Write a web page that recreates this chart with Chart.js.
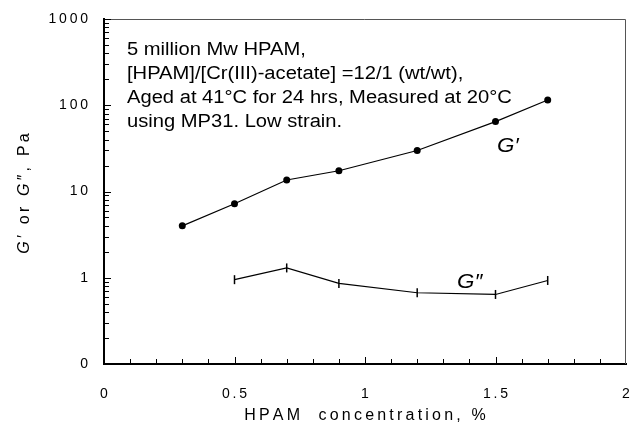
<!DOCTYPE html>
<html>
<head>
<meta charset="utf-8">
<script src="https://cdn.jsdelivr.net/npm/chart.js@4"></script>
<style>
  html, body { margin: 0; padding: 0; background: #fff; }
  #wrap { width: 632px; height: 429px; }
</style>
</head>
<body>
<div id="wrap"><canvas id="modChart" width="632" height="429"></canvas></div>
<script>
// data
const concElastic = [0.3, 0.5, 0.7, 0.9, 1.2, 1.5, 1.7];
const gPrime = [4.0, 7.2, 13.6, 17.4, 29.9, 64.6, 115];
const concViscous = [0.5, 0.7, 0.9, 1.2, 1.5, 1.7];
const gDouble = [0.95, 1.30, 0.86, 0.67, 0.64, 0.93];

const yTickValues = [0.1, 1, 10, 100, 1000];
const yTickLabels = ['0', '1', '10', '100', '1000'];
const xTickValues = [0, 0.5, 1, 1.5, 2];
const minorMultipliers = [2, 3, 4, 5, 6, 7, 8, 9];

const noteLines = [
    '5 million Mw HPAM,',
    '[HPAM]/[Cr(III)-acetate] =12/1 (wt/wt),',
    'Aged at 41\u00B0C for 24 hrs, Measured at 20\u00B0C',
    'using MP31. Low strain.'
];

const FONT = "'Liberation Sans', Arial, sans-serif";

// the axis texts of the original are letter-spaced; thin spaces keep canvas alignment right
const spaced = s => String(s).split('').join('\u2009');

// ---------------------------------------------------------
// frame, inward ticks and text
// ---------------------------------------------------------
const decorPlugin = {
    id: 'decor',
    afterDraw(chart) {
        const ctx = chart.ctx;
        const area = chart.chartArea;
        const xs = chart.scales.x, ys = chart.scales.y;
        ctx.save();

        // top / right frame
        ctx.strokeStyle = '#555';
        ctx.lineWidth = 1;
        ctx.beginPath();
        ctx.moveTo(area.left, area.top + 0.5);
        ctx.lineTo(area.right - 0.5, area.top + 0.5);
        ctx.lineTo(area.right - 0.5, area.bottom);
        ctx.stroke();

        // inward ticks
        ctx.strokeStyle = '#000';
        ctx.lineWidth = 1;
        ctx.beginPath();
        for (let d = 0; d < yTickValues.length; d++) {
            const base = yTickValues[d];
            const py = Math.round(ys.getPixelForValue(base)) + 0.5;
            ctx.moveTo(area.left, py); ctx.lineTo(area.left + 7, py);
            if (d < yTickValues.length - 1) {
                minorMultipliers.forEach(m => {
                    const p = Math.round(ys.getPixelForValue(base * m)) + 0.5;
                    ctx.moveTo(area.left, p); ctx.lineTo(area.left + 5, p);
                });
            }
        }
        for (let i = 1; i < 20; i++) {
            const v = i / 10;
            const px = Math.round(xs.getPixelForValue(v)) + 0.5;
            const len = (i % 5 === 0) ? 7 : 5;
            ctx.moveTo(px, area.bottom); ctx.lineTo(px, area.bottom - len);
        }
        ctx.stroke();

        // annotation
        ctx.fillStyle = '#000';
        ctx.textBaseline = 'alphabetic';
        ctx.textAlign = 'left';
        ctx.font = '18px ' + FONT;
        noteLines.forEach((line, i) => {
            ctx.save();
            ctx.translate(127, 55 + i * 24);
            ctx.scale(1.12, 1);
            ctx.fillText(line, 0, 0);
            ctx.restore();
        });

        // series labels
        ctx.font = 'italic 20px ' + FONT;
        [['G\u2032', 497, 152], ['G\u2033', 457, 288]].forEach(([t, x, y]) => {
            ctx.save();
            ctx.translate(x, y);
            ctx.scale(1.12, 1);
            ctx.fillText(t, 0, 0);
            ctx.restore();
        });

        // y axis title with italic G
        const parts = [
            ['italic', 'G\u2009'], ['normal', spaced('\u2032 or ') + '\u2009'],
            ['italic', 'G\u2009'], ['normal', spaced('\u2033, Pa')]
        ];
        let total = 0;
        parts.forEach(p => {
            ctx.font = (p[0] === 'italic' ? 'italic ' : '') + '16px ' + FONT;
            p.w = ctx.measureText(p[1]).width;
            total += p.w;
        });
        ctx.translate(29, (area.top + area.bottom) / 2 + 2);
        ctx.rotate(-Math.PI / 2);
        let cx = -total / 2;
        parts.forEach(p => {
            ctx.font = (p[0] === 'italic' ? 'italic ' : '') + '16px ' + FONT;
            ctx.fillText(p[1], cx, 0);
            cx += p.w;
        });
        ctx.restore();
    }
};

const ctx = document.getElementById('modChart').getContext('2d');
new Chart(ctx, {
    type: 'scatter',
    data: {
        datasets: [
            {
                label: "G'",
                data: concElastic.map((c, i) => ({ x: c, y: gPrime[i] })),
                showLine: true,
                borderColor: '#000',
                borderWidth: 1.2,
                pointStyle: 'circle',
                pointRadius: 3.5,
                pointBackgroundColor: '#000',
                pointBorderWidth: 0
            },
            {
                label: 'G"',
                data: concViscous.map((c, i) => ({ x: c, y: gDouble[i] })),
                showLine: true,
                borderColor: '#000',
                borderWidth: 1.2,
                pointStyle: 'line',
                rotation: 90,
                pointRadius: 4.5,
                pointBorderColor: '#000',
                pointBorderWidth: 1.5
            }
        ]
    },
    options: {
        responsive: false,
        animation: false,
        events: [],
        layout: { padding: { top: 19, right: 6, left: 0, bottom: 0 } },
        plugins: { legend: { display: false }, tooltip: { enabled: false } },
        scales: {
            x: {
                type: 'linear',
                min: 0, max: 2,
                afterBuildTicks: s => { s.ticks = xTickValues.map(v => ({ value: v })); },
                afterFit: s => { s.height = 65; s.paddingLeft = 0; s.paddingRight = 0; },
                grid: { display: false, drawTicks: false },
                border: { display: true, color: '#000', width: 2 },
                ticks: {
                    color: '#000',
                    font: { family: FONT, size: 14 },
                    padding: 22,
                    maxRotation: 0,
                    callback: v => spaced(v)
                },
                title: {
                    display: true,
                    text: spaced('HPAM  concentration, %'),
                    color: '#000',
                    font: { family: FONT, size: 16 },
                    padding: { top: 4, bottom: 4 }
                }
            },
            y: {
                type: 'logarithmic',
                min: 0.1, max: 1000,
                afterBuildTicks: s => { s.ticks = yTickValues.map(v => ({ value: v })); },
                afterFit: s => { s.width = 104; s.paddingTop = 0; s.paddingBottom = 0; },
                grid: { display: false, drawTicks: false },
                border: { display: true, color: '#000', width: 2 },
                ticks: {
                    color: '#000',
                    font: { family: FONT, size: 14 },
                    padding: 16,
                    callback: v => spaced(yTickLabels[yTickValues.indexOf(v)])
                }
            }
        }
    },
    plugins: [decorPlugin]
});
</script>
</body>
</html>
